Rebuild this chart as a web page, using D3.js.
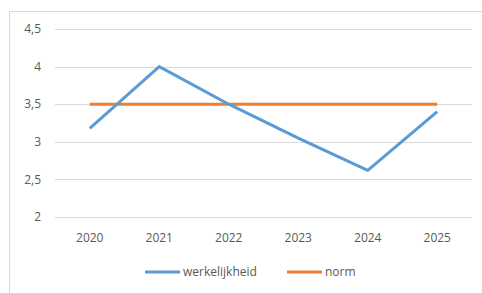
<!DOCTYPE html>
<html>
<head>
<meta charset="utf-8">
<script src="https://cdn.jsdelivr.net/npm/d3@7"></script>
<style>
  body { margin: 0; background: #fff; }
  text { font-family: "Open Sans", "Liberation Sans", sans-serif; fill: #595959; }
</style>
</head>
<body>
<svg id="chart"></svg>
<script>
// line chart: werkelijkheid vs norm
const years = ["2020", "2021", "2022", "2023", "2024", "2025"];
const werkelijkheid = [3.18, 4.0, 3.5, 3.05, 2.62, 3.4];
const norm = [3.5, 3.5, 3.5, 3.5, 3.5, 3.5];
const yTicks = [2, 2.5, 3, 3.5, 4, 4.5];

const width = 482;
const height = 293;
const plotLeft = 55, plotRight = 472, plotTop = 29, plotBottom = 217;

const svg = d3.select("#chart")
    .attr("width", width)
    .attr("height", height);

// chart area border
svg.append("rect")
    .attr("x", 9.5).attr("y", 11.5)
    .attr("width", width + 10).attr("height", height + 10)
    .attr("fill", "none")
    .attr("stroke", "#d9d9d9");

const x = d3.scaleBand().domain(years).range([plotLeft, plotRight]);
const y = d3.scaleLinear().domain([2, 4.5]).range([plotBottom, plotTop]);

// gridlines
svg.append("g")
    .selectAll("line")
    .data(yTicks)
    .join("line")
    .attr("x1", plotLeft).attr("x2", plotRight)
    .attr("y1", d => Math.round(y(d)) + 0.5)
    .attr("y2", d => Math.round(y(d)) + 0.5)
    .attr("stroke", "#d9d9d9");

// y labels
svg.append("g")
    .selectAll("text")
    .data(yTicks)
    .join("text")
    .attr("x", 41)
    .attr("y", d => y(d))
    .attr("dy", "0.35em")
    .attr("text-anchor", "end")
    .attr("font-size", 12)
    .text(d => String(d).replace(".", ","));

// x labels
svg.append("g")
    .selectAll("text")
    .data(years)
    .join("text")
    .attr("x", d => x(d) + x.bandwidth() / 2)
    .attr("y", 238)
    .attr("dy", "0.35em")
    .attr("text-anchor", "middle")
    .attr("font-size", 12)
    .text(d => d);

const line = d3.line()
    .x((d, i) => x(years[i]) + x.bandwidth() / 2)
    .y(d => y(d));

svg.append("path")
    .datum(norm)
    .attr("d", line)
    .attr("fill", "none")
    .attr("stroke", "#ed7d31")
    .attr("stroke-width", 3);

svg.append("path")
    .datum(werkelijkheid)
    .attr("d", line)
    .attr("fill", "none")
    .attr("stroke", "#5b9bd5")
    .attr("stroke-width", 3)
    .attr("stroke-linejoin", "round");

// legend
const legend = [
    { name: "werkelijkheid", color: "#5b9bd5", x: 145 },
    { name: "norm", color: "#ed7d31", x: 287 }
];
const lg = svg.append("g")
    .selectAll("g")
    .data(legend)
    .join("g")
    .attr("transform", d => `translate(${d.x},272)`);

lg.append("line")
    .attr("x1", 0).attr("x2", 35)
    .attr("stroke", d => d.color)
    .attr("stroke-width", 3);

lg.append("text")
    .attr("x", 38)
    .attr("dy", "0.35em")
    .attr("font-size", 12)
    .text(d => d.name);
</script>
</body>
</html>
